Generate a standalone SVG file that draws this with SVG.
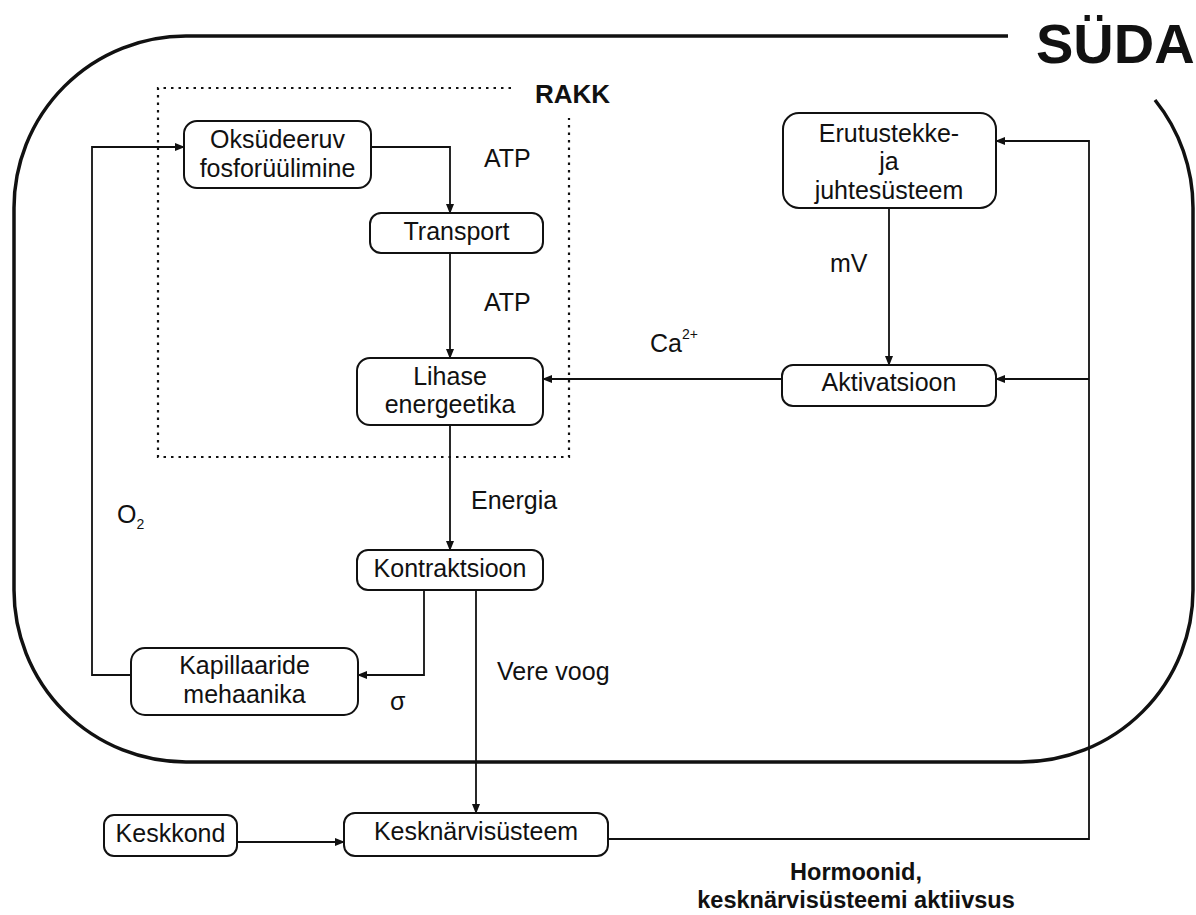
<svg xmlns="http://www.w3.org/2000/svg" width="1196" height="915" viewBox="0 0 1196 915">
  <defs>
    <marker id="arrow" markerWidth="10" markerHeight="8" refX="9" refY="4" orient="auto" markerUnits="userSpaceOnUse">
      <path d="M0,0 L10,4 L0,8 Z" fill="#111"/>
    </marker>
    <style>
      .box { fill: #fff; stroke: #111; stroke-width: 2; }
      .t { font-family: "Liberation Sans", Arial, sans-serif; font-size: 25px; fill: #111; text-anchor: middle; }
      .lbl { font-family: "Liberation Sans", Arial, sans-serif; font-size: 25px; fill: #111; }
      .bold { font-family: "Liberation Sans", Arial, sans-serif; font-weight: bold; fill: #111; }
      .conn { fill: none; stroke: #111; stroke-width: 1.8; }
    </style>
  </defs>
  <rect width="1196" height="915" fill="#fff"/>

  <!-- heart outline, open at top right for the title -->
  <path d="M1008,36 L186,36 A172,172 0 0 0 14,208 L14,590 A172,172 0 0 0 186,762 L1021,762 A172,172 0 0 0 1193,590 L1193,208 A172,172 0 0 0 1155,100" fill="none" stroke="#111" stroke-width="3.5"/>
  <text class="bold" x="1036" y="63" font-size="56">SÜDA</text>

  <!-- cell boundary -->
  <path d="M511,88 L158,88 L158,457 L569,457 L569,118" fill="none" stroke="#111" stroke-width="2.2" stroke-dasharray="2.5 5"/>
  <text class="bold" x="535" y="103" font-size="26">RAKK</text>

  <!-- connectors -->
  <g id="connectors">
    <path class="conn" d="M371,147 L450,147 L450,213" marker-end="url(#arrow)"/>
    <path class="conn" d="M450,253 L450,358" marker-end="url(#arrow)"/>
    <path class="conn" d="M450,425 L450,550" marker-end="url(#arrow)"/>
    <path class="conn" d="M782,379 L543,379" marker-end="url(#arrow)"/>
    <path class="conn" d="M889,208 L889,365" stroke-width="2.6" marker-end="url(#arrow)"/>
    <path class="conn" d="M424,590 L424,675 L358,675" marker-end="url(#arrow)"/>
    <path class="conn" d="M131,675 L92,675 L92,147 L184,147" marker-end="url(#arrow)"/>
    <path class="conn" d="M476,590 L476,813" marker-end="url(#arrow)"/>
    <path class="conn" d="M237,842 L344,842" marker-end="url(#arrow)"/>
    <path class="conn" d="M608,839 L1089,839 L1089,141 L996,141" marker-end="url(#arrow)"/>
    <path class="conn" d="M1089,379 L996,379" marker-end="url(#arrow)"/>
  </g>

  <!-- connector labels -->
  <text class="lbl" x="484" y="167">ATP</text>
  <text class="lbl" x="484" y="311">ATP</text>
  <text class="lbl" x="471" y="509">Energia</text>
  <text class="lbl" x="830" y="272">mV</text>
  <text class="lbl" x="650" y="352">Ca<tspan font-size="14" dy="-13">2+</tspan></text>
  <text class="lbl" x="117" y="523">O<tspan font-size="14" dy="6">2</tspan></text>
  <text class="lbl" x="390" y="710">σ</text>
  <text class="lbl" x="497" y="680">Vere voog</text>
  <text class="bold" x="856" y="880" font-size="23.5" text-anchor="middle">Hormoonid,</text>
  <text class="bold" x="856" y="908" font-size="23.5" text-anchor="middle">kesknärvisüsteemi aktiivsus</text>

  <!-- nodes -->
  <g id="oksudeeruv">
    <rect class="box" x="184" y="121" width="187" height="67" rx="13"/>
    <text class="t" x="277.5" y="148">Oksüdeeruv</text>
    <text class="t" x="277.5" y="177">fosforüülimine</text>
  </g>
  <g id="transport">
    <rect class="box" x="370" y="213" width="173" height="40" rx="11"/>
    <text class="t" x="456.5" y="240">Transport</text>
  </g>
  <g id="lihase">
    <rect class="box" x="357" y="358" width="186" height="67" rx="13"/>
    <text class="t" x="450" y="385">Lihase</text>
    <text class="t" x="450" y="413">energeetika</text>
  </g>
  <g id="kontraktsioon">
    <rect class="box" x="357" y="550" width="186" height="40" rx="11"/>
    <text class="t" x="450" y="577">Kontraktsioon</text>
  </g>
  <g id="kapillaaride">
    <rect class="box" x="131" y="648" width="227" height="67" rx="14"/>
    <text class="t" x="244.5" y="674">Kapillaaride</text>
    <text class="t" x="244.5" y="703">mehaanika</text>
  </g>
  <g id="erutustekke">
    <rect class="box" x="783" y="113" width="213" height="95" rx="16"/>
    <text class="t" x="889" y="142">Erutustekke-</text>
    <text class="t" x="889" y="170">ja</text>
    <text class="t" x="889" y="199">juhtesüsteem</text>
  </g>
  <g id="aktivatsioon">
    <rect class="box" x="782" y="365" width="214" height="41" rx="11"/>
    <text class="t" x="889" y="391">Aktivatsioon</text>
  </g>
  <g id="keskkond">
    <rect class="box" x="104" y="815" width="133" height="41" rx="10"/>
    <text class="t" x="170.5" y="842">Keskkond</text>
  </g>
  <g id="kesknarvisusteem">
    <rect class="box" x="344" y="813" width="264" height="43" rx="11"/>
    <text class="t" x="476" y="840">Kesknärvisüsteem</text>
  </g>
</svg>
